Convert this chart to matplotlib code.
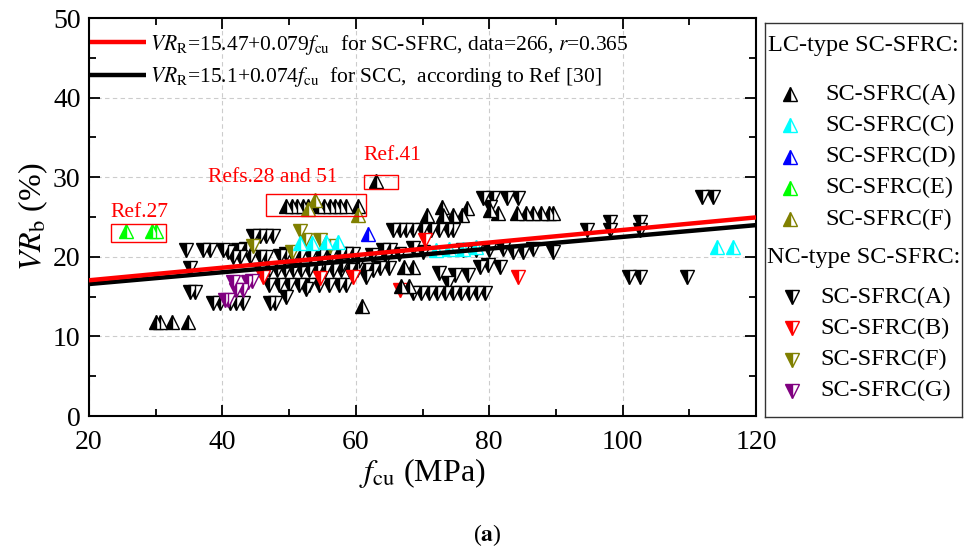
import matplotlib

matplotlib.use('agg')
import matplotlib.pyplot as plt
from matplotlib.patches import Rectangle
import numpy as np

plt.rcParams['font.family'] = ['Liberation Serif', 'DejaVu Serif']
plt.rcParams['mathtext.fontset'] = 'stix'

# LC-type SC-SFRC (up triangles)
lc_a_x = [30.0, 30.6, 32.4, 34.9,
          49.6, 50.4, 51.2, 52.1, 52.9, 54.4, 55.2, 56.2, 56.9, 57.7, 58.6, 60.4,
          63.0, 60.9,
          70.6, 72.9, 73.1, 74.6, 75.9, 76.6,
          80.1, 81.3, 84.1, 85.5, 86.6, 87.7, 88.9, 89.6,
          67.2, 68.6, 66.8, 68.0]
lc_a_y = [11.8, 11.8, 11.8, 11.8,
          26.4, 26.4, 26.4, 26.4, 26.4, 26.4, 26.4, 26.4, 26.4, 26.4, 26.4, 26.4,
          29.5, 13.8,
          25.3, 26.3, 25.3, 25.3, 25.3, 26.1,
          25.9, 25.5, 25.5, 25.5, 25.5, 25.5, 25.5, 25.5,
          18.7, 18.7, 16.3, 16.3]
lc_c_x = [51.6, 53.4, 55.6, 57.4, 72.0, 74.0, 76.0, 78.0, 114.1, 116.6]
lc_c_y = [21.7, 21.7, 21.9, 21.9, 20.8, 21.0, 21.0, 21.2, 21.2, 21.2]
lc_d_x = [61.9]
lc_d_y = [22.9]
lc_e_x = [25.6, 29.4, 30.0]
lc_e_y = [23.3, 23.3, 23.3]
lc_f_x = [53.9, 52.9, 60.4]
lc_f_y = [27.1, 26.0, 25.3]

# NC-type SC-SFRC (down triangles)
nc_a_x = [34.6, 37.1, 38.1, 40.1, 40.9, 42.3, 43.5,
          35.1, 35.1, 35.9,
          38.6, 39.6, 41.1, 42.1, 43.1, 47.1, 47.9,
          41.6, 42.6, 44.1, 45.6, 46.6,
          44.6, 45.6, 46.6, 47.6,
          48.6, 49.6, 50.6, 51.6, 53.1, 54.6, 56.1, 57.6, 58.6, 59.6,
          45.6, 47.0, 48.2, 49.4, 50.6, 51.8, 53.0, 54.2, 55.4, 56.6, 57.8, 59.0,
          60.2, 61.4, 62.6,
          47.0, 48.5, 50.0, 51.5, 53.0, 54.5, 56.0, 57.5, 58.6,
          49.6, 52.5, 61.6, 64.1, 65.1,
          65.6, 66.6, 67.6, 68.6, 69.9, 71.2, 72.5, 73.8, 74.6,
          63.6, 65.0, 68.6,
          72.4, 74.9, 76.8, 73.8,
          68.6, 69.8, 71.0, 72.2, 73.4, 74.6, 75.8, 77.0, 78.2, 79.4,
          78.6, 79.8, 81.6,
          79.1, 80.6, 82.6, 84.3, 80.1,
          62.5, 64.5, 66.5, 70.0, 76.0, 78.0, 80.0, 82.0, 83.6, 85.1, 86.5, 89.6,
          55.0, 58.0, 60.5,
          94.6, 98.1, 98.1, 102.6, 102.6,
          111.9, 113.6,
          100.9, 102.6, 109.6]
nc_a_y = [20.9, 20.9, 20.9, 20.9, 20.6, 20.9, 21.0,
          18.6, 15.6, 15.6,
          14.2, 14.2, 14.2, 14.2, 14.2, 14.2, 14.2,
          20.0, 20.0, 20.0, 20.0, 20.0,
          22.6, 22.6, 22.6, 22.6,
          20.1, 20.3, 20.1, 20.1, 20.1, 20.1, 20.1, 20.4, 20.4, 20.4,
          18.3, 18.3, 18.3, 18.3, 18.3, 18.3, 18.3, 18.3, 18.3, 18.3, 18.3, 18.3,
          18.3, 18.3, 18.3,
          16.5, 16.5, 16.5, 16.5, 16.5, 16.5, 16.5, 16.5, 16.5,
          15.0, 16.0, 17.5, 20.9, 20.9,
          23.4, 23.4, 23.4, 23.4, 23.4, 23.4, 23.4, 23.4, 23.4,
          18.6, 18.6, 21.1,
          18.0, 17.7, 17.7, 16.7,
          15.5, 15.5, 15.5, 15.5, 15.5, 15.5, 15.5, 15.5, 15.5, 15.5,
          18.7, 19.0, 18.7,
          27.4, 27.4, 27.4, 27.4, 26.3,
          20.2, 20.0, 20.3, 20.6, 20.8, 20.9, 20.8, 21.0, 20.6, 20.6, 21.0, 20.6,
          19.2, 19.0, 19.5,
          23.4, 24.4, 23.4, 24.4, 23.4,
          27.5, 27.5,
          17.5, 17.5, 17.5]
nc_b_x = [46.1, 54.6, 59.6, 66.6, 70.4, 84.3]
nc_b_y = [17.5, 17.3, 17.5, 15.8, 22.1, 17.5]
nc_f_x = [51.6, 52.4, 54.6, 56.1, 50.4, 44.6]
nc_f_y = [23.3, 22.1, 22.1, 21.3, 20.6, 21.3]
nc_g_x = [41.6, 42.1, 43.1, 43.8, 40.4, 40.8, 44.5]
nc_g_y = [16.8, 15.8, 15.8, 16.8, 14.6, 14.6, 17.0]

lc_series = [('SC-SFRC(A)', 'black', lc_a_x, lc_a_y),
             ('SC-SFRC(C)', 'cyan', lc_c_x, lc_c_y),
             ('SC-SFRC(D)', 'blue', lc_d_x, lc_d_y),
             ('SC-SFRC(E)', 'lime', lc_e_x, lc_e_y),
             ('SC-SFRC(F)', 'olive', lc_f_x, lc_f_y)]
nc_series = [('SC-SFRC(A)', 'black', nc_a_x, nc_a_y),
             ('SC-SFRC(B)', 'red', nc_b_x, nc_b_y),
             ('SC-SFRC(F)', 'olive', nc_f_x, nc_f_y),
             ('SC-SFRC(G)', 'purple', nc_g_x, nc_g_y)]

# regression lines
fit_x = np.array([20, 120])
fit_red = 15.47 + 0.079 * fit_x
fit_black = 15.1 + 0.074 * fit_x

W, H = 964, 549
fig = plt.figure(figsize=(9.64, 5.49), dpi=100)
ax = fig.add_axes([89 / W, 1 - 416 / H, (756 - 89) / W, (416 - 18) / H])


def tri(axis, x, y, marker, color, zorder=2):
  axis.plot(x, y, linestyle='none', marker=marker, markersize=9.5,
            fillstyle='left', markerfacecolor=color,
            markerfacecoloralt='white', markeredgecolor=color,
            markeredgewidth=1.0, zorder=zorder)


for name, col, xs, ys in nc_series:
  tri(ax, xs, ys, 'v', col)
for name, col, xs, ys in lc_series:
  tri(ax, xs, ys, '^', col)

ax.plot(fit_x, fit_black, color='black', lw=3.2, zorder=4, solid_capstyle='butt',
        label=r'$VR_{\rm R}$=15.1+0.074$f_{\rm cu}$  for SCC,  according to Ref [30]')
ax.plot(fit_x, fit_red, color='red', lw=3.2, zorder=5, solid_capstyle='butt',
        label=r'$VR_{\rm R}$=15.47+0.079$f_{\rm cu}$  for SC-SFRC, data=266, $r$=0.365')

h, l = ax.get_legend_handles_labels()
ax.legend(h[::-1], l[::-1], loc='upper left', bbox_to_anchor=(-0.012, 0.985),
          frameon=False, fontsize=15.5, handlelength=2.6, handletextpad=0.2,
          borderaxespad=0.0, borderpad=0.4, labelspacing=0.4)

# annotations
boxes = [(23.3, 21.9, 8.2, 2.2, 'Ref.27', 23.2, 25.6),
         (46.5, 25.1, 15.0, 2.8, 'Refs.28 and 51', 37.8, 30.0),
         (61.2, 28.5, 5.1, 1.8, 'Ref.41', 61.2, 32.7)]
for bx, by, bw, bh, txt, tx, ty in boxes:
  ax.add_patch(Rectangle((bx, by), bw, bh, fill=False, edgecolor='red',
                         lw=1.0, zorder=6))
  ax.text(tx, ty, txt, color='red', fontsize=15.5, ha='left', va='center')

ax.set_xlim(20, 120)
ax.set_ylim(0, 50)
ax.set_xticks(np.arange(20, 121, 20))
ax.set_yticks(np.arange(0, 51, 10))
ax.set_xticks(np.arange(30, 120, 20), minor=True)
ax.set_yticks(np.arange(5, 50, 10), minor=True)
ax.grid(True, which='major', linestyle=(0, (4, 3)), color='#cccccc', lw=0.8)
ax.set_axisbelow(True)
ax.tick_params(which='both', direction='in', top=True, right=True, width=1.3,
               labelsize=20)
ax.tick_params(axis='x', pad=10)
ax.tick_params(axis='y', pad=6)
ax.tick_params(which='major', length=8)
ax.tick_params(which='minor', length=5)
for s in ax.spines.values():
  s.set_linewidth(1.5)

ax.set_xlabel(r'$f_{\rm cu}$ (MPa)', fontsize=23, labelpad=1)
ax.set_ylabel(r'$VR_{\rm b}$ (%)', fontsize=23, labelpad=2)

# right legend box, laid out in pixel units
lax = fig.add_axes([765 / W, 1 - 417 / H, (962 - 765) / W, (417 - 23) / H])
lax.set_xlim(765, 962)
lax.set_ylim(417, 23)
lax.set_xticks([])
lax.set_yticks([])
for s in lax.spines.values():
  s.set_linewidth(1.0)
  s.set_color('#333333')

lax.text(768, 45, 'LC-type SC-SFRC:', fontsize=17.5, va='center', ha='left')
for i, (name, col, xs, ys) in enumerate(lc_series):
  yy = 94 + i * 31.3
  tri(lax, [790], [yy], '^', col)
  lax.text(825, yy, name, fontsize=17.5, va='center', ha='left')
lax.text(767, 258, 'NC-type SC-SFRC:', fontsize=17.5, va='center', ha='left')
for i, (name, col, xs, ys) in enumerate(nc_series):
  yy = 297 + i * 31.3
  tri(lax, [792], [yy], 'v', col)
  lax.text(820, yy, name, fontsize=17.5, va='center', ha='left')

fig.text(0.505, 0.026, r'($\mathbf{a}$)', fontsize=17, ha='center', va='center')

fig.savefig('out.png', dpi=100)
